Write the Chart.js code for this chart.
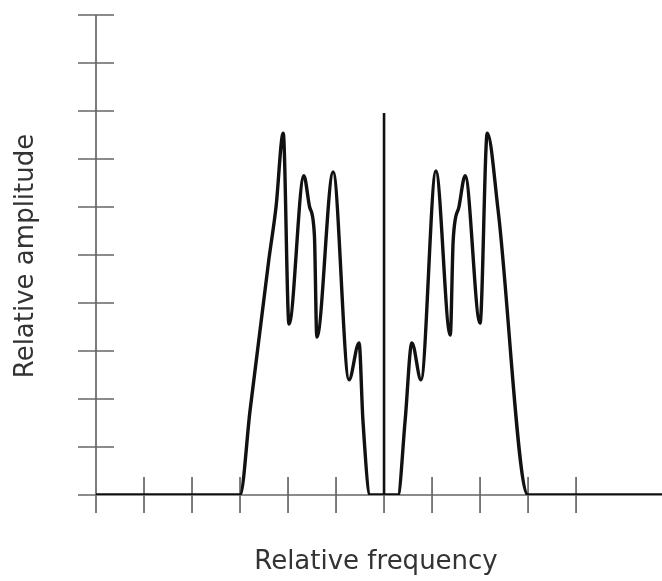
<!DOCTYPE html>
<html>
<head>
<meta charset="utf-8">
<script src="https://cdn.jsdelivr.net/npm/chart.js@4"></script>
<style>
  html, body { margin: 0; padding: 0; background: #fff; }
  #wrap { width: 662px; height: 581px; position: relative; }
</style>
</head>
<body>
<div id="wrap"><canvas id="c" width="662" height="581"></canvas></div>
<script>
// Relative frequency (x) and relative amplitude (y) of the spectrum curve
const frequency = [0, 3, 3.21, 3.6, 3.75, 3.9, 4.02, 4.33, 4.45, 4.55, 4.6, 4.94, 5.27, 5.48, 5.56, 5.71,
                   6.29, 6.44, 6.58, 6.77, 7.08, 7.38, 7.44, 7.56, 7.69, 8.0, 8.15, 8.375, 9, 11.79];
const amplitude = [0, 0, 1.77, 4.9, 6.0, 7.54, 3.56, 6.65, 6.0, 5.4, 3.29, 6.73, 2.4, 3.17, 1.56, 0,
                   0, 1.56, 3.17, 2.4, 6.75, 3.33, 5.3, 6.0, 6.65, 3.58, 7.54, 5.94, 0, 0];
// Carrier line at the centre
const carrierFreq = [6, 6];
const carrierAmp = [0, 7.96];
// Axis ranges and tick values
const xTicks = [0,1,2,3,4,5,6,7,8,9,10];
const yTicks = [0,1,2,3,4,5,6,7,8,9,10];
const xMax = 11.79, yMax = 10;
const xTitle = "Relative frequency";
const yTitle = "Relative amplitude";

const axesPlugin = {
  id: 'axesPlugin',
  beforeDatasetsDraw(chart) {
    const {ctx, scales:{x, y}} = chart;
    const tl = 18;
    ctx.save();
    ctx.strokeStyle = '#666';
    ctx.lineWidth = 1.7;
    const x0 = x.getPixelForValue(0), y0 = y.getPixelForValue(0);
    ctx.beginPath();
    ctx.moveTo(x0, y.getPixelForValue(yMax));
    ctx.lineTo(x0, y0 + tl);
    ctx.moveTo(x0 - tl, y0);
    ctx.lineTo(x.getPixelForValue(xMax), y0);
    yTicks.forEach(v => {
      const py = y.getPixelForValue(v);
      ctx.moveTo(x0 - tl, py); ctx.lineTo(x0 + tl, py);
    });
    xTicks.forEach(v => {
      const px = x.getPixelForValue(v);
      ctx.moveTo(px, y0 - tl); ctx.lineTo(px, y0 + tl);
    });
    ctx.stroke();
    ctx.fillStyle = '#333';
    ctx.font = '26px "DejaVu Sans", sans-serif';
    ctx.textAlign = 'center';
    ctx.textBaseline = 'alphabetic';
    ctx.fillText(xTitle, 376, 569);
    ctx.translate(33, 256);
    ctx.rotate(-Math.PI/2);
    ctx.fillText(yTitle, 0, 0);
    ctx.restore();
  }
};

new Chart(document.getElementById('c'), {
  type: 'scatter',
  data: {
    datasets: [
      {
        data: frequency.map((f, i) => ({x: f, y: amplitude[i]})),
        showLine: true,
        borderColor: '#111',
        borderWidth: 3.4,
        pointRadius: 0,
        cubicInterpolationMode: 'monotone',
        fill: false
      },
      {
        data: carrierFreq.map((f, i) => ({x: f, y: carrierAmp[i]})),
        showLine: true,
        borderColor: '#111',
        borderWidth: 2.6,
        pointRadius: 0,
        fill: false
      }
    ]
  },
  options: {
    responsive: false,
    animation: false,
    events: [],
    layout: { padding: { left: 96, top: 15, right: 0, bottom: 86 } },
    plugins: { legend: { display: false }, tooltip: { enabled: false } },
    scales: {
      x: { type: 'linear', min: 0, max: xMax, display: false },
      y: { type: 'linear', min: 0, max: yMax, display: false }
    }
  },
  plugins: [axesPlugin]
});
</script>
</body>
</html>
